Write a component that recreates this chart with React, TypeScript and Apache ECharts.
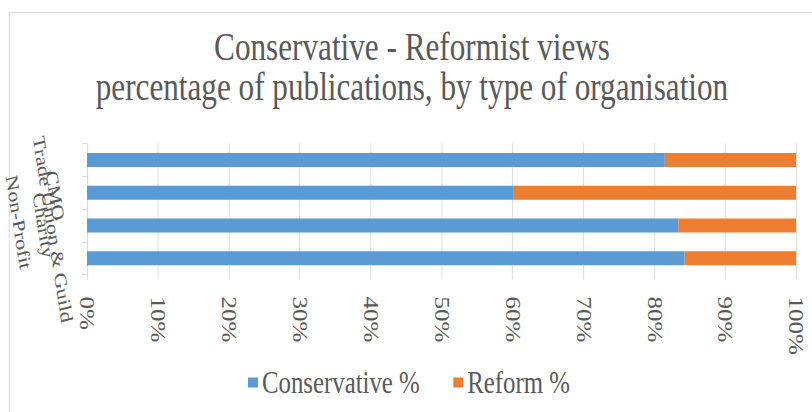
import React, { useEffect, useRef } from "react";
import * as echarts from "echarts";

// ---- data ----
const categories = ["Trade Union & Guild", "CMO", "Charity", "Non-Profit"];
const conservativePct = [81.5, 60.1, 83.4, 84.3];
const reformPct = [18.5, 39.9, 16.6, 15.7];
const seriesNames = ["Conservative %", "Reform %"];
const titleLines = [
  "Conservative - Reformist views",
  "percentage of publications, by type of organisation",
];

// ---- style ----
const SCALE_X = 0.8;
const W = 812 / SCALE_X;
const H = 412;
const FONT = "Liberation Serif";
const TEXT = "#595959";
const GRID = "#d9d9d9";
const BLUE = "#5b9bd5";
const ORANGE = "#ed7d31";
// per-label placement styles: horizontal padding [right, left], line box height, vertical align
const labelStyles = [
  { pr: 0, pl: 135, lh: 31, va: "top" },
  { pr: 0, pl: 6, lh: 24, va: "middle" },
  { pr: 6, pl: 0, lh: 28, va: "top" },
  { pr: 88, pl: 0, lh: 75, va: "top" },
];

export default function App() {
  const ref = useRef<HTMLDivElement>(null);
  useEffect(() => {
    document.body.style.margin = "0";
    if (!ref.current) return;
    const chart = echarts.init(ref.current, undefined, { renderer: "svg" });
    chart.setOption({
      animation: false,
      backgroundColor: "#ffffff",
      title: {
        text: titleLines.join("\n"),
        left: 510,
        textAlign: "center",
        top: 22,
        textStyle: {
          fontFamily: FONT,
          fontSize: 39,
          lineHeight: 40,
          fontWeight: "normal",
          color: TEXT,
        },
      },
      graphic: [
        {
          type: "rect",
          silent: true,
          z: -10,
          shape: { x: 11.5, y: 12.5, width: 1200, height: 600 },
          style: { fill: "none", stroke: GRID, lineWidth: 1 },
        },
      ],
      legend: {
        top: 362,
        left: 310,
        padding: [5, 0, 5, 0],
        icon: "rect",
        itemWidth: 12.5,
        itemHeight: 10,
        itemGap: 42,
        textStyle: { fontFamily: FONT, fontSize: 31, color: TEXT },
        data: seriesNames,
      },
      grid: {
        left: 108.75,
        right: 20,
        top: 143.5,
        bottom: 137.5,
        containLabel: false,
        outerBoundsMode: "none",
      },
      xAxis: {
        type: "value",
        min: 0,
        max: 100,
        interval: 10,
        axisLine: { show: false },
        axisTick: { show: true, length: 5, lineStyle: { color: GRID } },
        splitLine: { show: true, lineStyle: { color: GRID, width: 1 } },
        axisLabel: {
          rotate: -90,
          margin: 22,
          formatter: "{value}%",
          fontFamily: FONT,
          fontSize: 25,
          color: TEXT,
        },
      },
      yAxis: {
        type: "category",
        inverse: true,
        data: categories.map((c, i) => ({
          value: c,
          textStyle: {
            align: "center",
            verticalAlign: labelStyles[i].va,
            lineHeight: labelStyles[i].lh,
            padding: [0, labelStyles[i].pr, 0, labelStyles[i].pl],
          },
        })),
        axisLine: { show: true, lineStyle: { color: GRID } },
        axisTick: { show: true, length: 6, lineStyle: { color: GRID } },
        axisLabel: {
          interval: 0,
          rotate: -79,
          margin: 40,
          fontFamily: FONT,
          fontSize: 22,
          color: TEXT,
        },
      },
      series: [
        {
          name: seriesNames[0],
          type: "bar",
          stack: "total",
          barWidth: 14,
          itemStyle: { color: BLUE },
          data: conservativePct,
        },
        {
          name: seriesNames[1],
          type: "bar",
          stack: "total",
          barWidth: 14,
          itemStyle: { color: ORANGE },
          data: reformPct,
        },
      ],
    });
    return () => chart.dispose();
  }, []);
  return (
    <div style={{ width: 812, height: 412, overflow: "hidden" }}>
      <div
        ref={ref}
        style={{
          width: W,
          height: H,
          transform: `scaleX(${SCALE_X})`,
          transformOrigin: "0 0",
        }}
      />
    </div>
  );
}
